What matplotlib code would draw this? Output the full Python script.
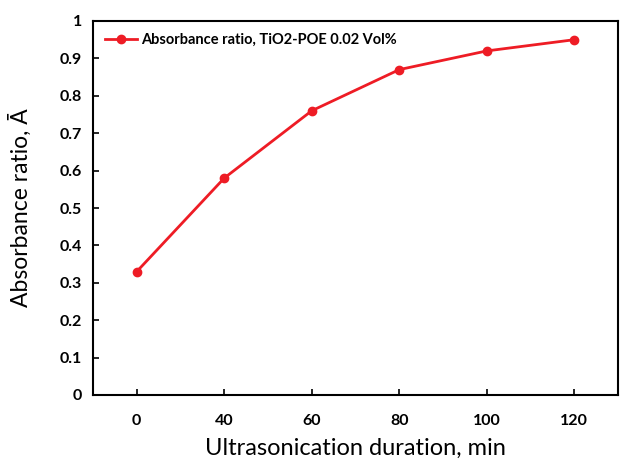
import matplotlib
matplotlib.use("Agg")
import matplotlib.pyplot as plt

# data
durations = ["0", "40", "60", "80", "100", "120"]  # min, categorical axis
ratio = [0.33, 0.58, 0.76, 0.87, 0.92, 0.95]
series_label = "Absorbance ratio, TiO2-POE 0.02 Vol%"
yticks = [0, 0.1, 0.2, 0.3, 0.4, 0.5, 0.6, 0.7, 0.8, 0.9, 1]
ytick_labels = ["0", "0.1", "0.2", "0.3", "0.4", "0.5", "0.6", "0.7", "0.8", "0.9", "1"]

plt.rcParams['font.family'] = ['Lato', 'DejaVu Sans']

fig = plt.figure(figsize=(6.3, 4.62), dpi=100)
ax = fig.add_axes([93 / 630, 1 - 395 / 462, (618 - 93) / 630, (395 - 21) / 462])

xpos = list(range(len(durations)))
ax.plot(xpos, ratio, color='#ee1c25', lw=2, marker='o', ms=6, label=series_label)

ax.set_xlim(-0.5, len(durations) - 0.5)
ax.set_ylim(0, 1)
ax.set_xticks(xpos)
ax.set_xticklabels(durations, fontsize=11.5, fontweight='bold')
ax.set_yticks(yticks)
ax.set_yticklabels(ytick_labels, fontsize=11.5, fontweight='bold')
ax.tick_params(direction='in', length=4, width=1.2, pad=8)
ax.tick_params(axis='x', pad=14)
for s in ax.spines.values():
    s.set_linewidth(1.5)

ax.set_xlabel("Ultrasonication duration, min", fontsize=17, labelpad=7)
ax.set_ylabel("Absorbance ratio, \u0100", fontsize=16.5, labelpad=20)

ax.legend(loc='upper left', frameon=False, prop={'size': 10.5, 'weight': 'bold'},
          handlelength=2.2, handletextpad=0.3, borderaxespad=0.4)

fig.savefig("out.png", dpi=100)
